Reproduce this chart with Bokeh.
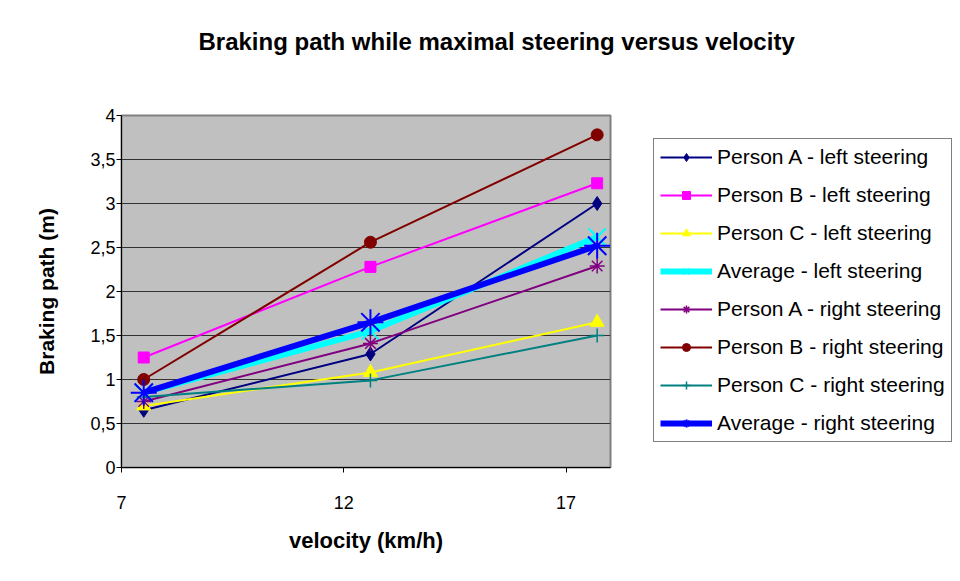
from bokeh.plotting import figure
from bokeh.models import Range1d, FixedTicker, CustomJSTickFormatter, Legend
from bokeh.embed import file_html
from bokeh.resources import INLINE

title = "Braking path while maximal steering versus velocity"
velocity = [7.5, 12.6, 17.7]
series_names = [
    "Person A - left steering",
    "Person B - left steering",
    "Person C - left steering",
    "Average - left steering",
    "Person A - right steering",
    "Person B - right steering",
    "Person C - right steering",
    "Average - right steering",
]
a_left = [0.65, 1.29, 3.0]
b_left = [1.25, 2.28, 3.23]
c_left = [0.70, 1.08, 1.65]
avg_left = [0.85, 1.55, 2.62]
a_right = [0.75, 1.41, 2.29]
b_right = [1.0, 2.56, 3.78]
c_right = [0.80, 0.99, 1.50]
avg_right = [0.85, 1.65, 2.52]
y_ticks = [0, 0.5, 1, 1.5, 2, 2.5, 3, 3.5, 4]
x_ticks = [7, 12, 17]

FONT = "Liberation Sans"

p = figure(frame_width=489, frame_height=352, output_backend="svg", toolbar_location=None,
           x_range=Range1d(7, 18), y_range=Range1d(0, 4),
           min_border_left=121, min_border_right=0,
           min_border_top=115, min_border_bottom=106)
p.background_fill_color = "#C0C0C0"
p.border_fill_color = "white"
p.outline_line_color = "#808080"
p.outline_line_width = 2

# trailing blank lines lift the title well above the plot area
p.title.text = title + "\n\n"
p.title.align = "left"
p.title.offset = 77
p.title.text_font = FONT
p.title.text_font_size = "24px"
p.title.text_font_style = "bold"
p.title.text_color = "black"
p.title.standoff = 14

p.xgrid.visible = False
p.ygrid.grid_line_color = "#333333"
p.ygrid.grid_line_width = 1

p.yaxis.ticker = FixedTicker(ticks=y_ticks)
p.xaxis.ticker = FixedTicker(ticks=x_ticks)
p.yaxis.formatter = CustomJSTickFormatter(code="return tick.toString().replace('.', ',');")
for ax in (p.xaxis[0], p.yaxis[0]):
    ax.axis_line_color = "black"
    ax.major_tick_line_color = "black"
    ax.major_tick_out = 5
    ax.major_tick_in = 0
    ax.minor_tick_line_color = None
    ax.major_label_text_font = FONT
    ax.major_label_text_font_size = "18px"
    ax.major_label_text_color = "black"
    ax.axis_label_text_font = FONT
    ax.axis_label_text_font_style = "bold"
    ax.axis_label_text_color = "black"
p.xaxis.axis_label = "velocity (km/h)"
p.yaxis.axis_label = "Braking path (m)"
p.xaxis.axis_label_text_font_size = "22px"
p.yaxis.axis_label_text_font_size = "21px"
p.xaxis.major_label_standoff = 23
p.xaxis.axis_label_standoff = 16
p.yaxis.major_label_standoff = 1
p.yaxis.axis_label_standoff = 29

styles = [
    (a_left, "#000080", "diamond", 14, 2, 1),
    (b_left, "#FF00FF", "square", 11, 2, 1),
    (c_left, "#FFFF00", "triangle", 14, 2, 1),
    (avg_left, "#00FFFF", "x", 24, 6, 2),
    (a_right, "#800080", "asterisk", 15, 2, 1.5),
    (b_right, "#800000", "circle", 12, 2, 1),
    (c_right, "#008080", "cross", 14, 2, 1.5),
    (avg_right, "#0000FF", "asterisk", 26, 6, 2),
]

items = []
for name, (vals, color, marker, size, lw, mlw) in zip(series_names, styles):
    r1 = p.line(velocity, vals, line_color=color, line_width=lw)
    r2 = p.scatter(velocity, vals, marker=marker, size=size, line_color=color,
                   fill_color=color, line_width=mlw)
    items.append((name, [r1, r2]))

legend = Legend(items=items, location=(43, 25))
legend.label_text_font = FONT
legend.label_text_font_size = "21px"
legend.label_text_color = "black"
legend.padding = 6
legend.spacing = 14
legend.glyph_height = 20
legend.label_height = 20
legend.glyph_width = 52
legend.label_standoff = 5
legend.margin = 0
legend.border_line_color = "black"
legend.border_line_width = 1
legend.background_fill_color = "white"
legend.background_fill_alpha = 1
p.add_layout(legend, "right")

open("out.html", "w").write(file_html(p, INLINE))
